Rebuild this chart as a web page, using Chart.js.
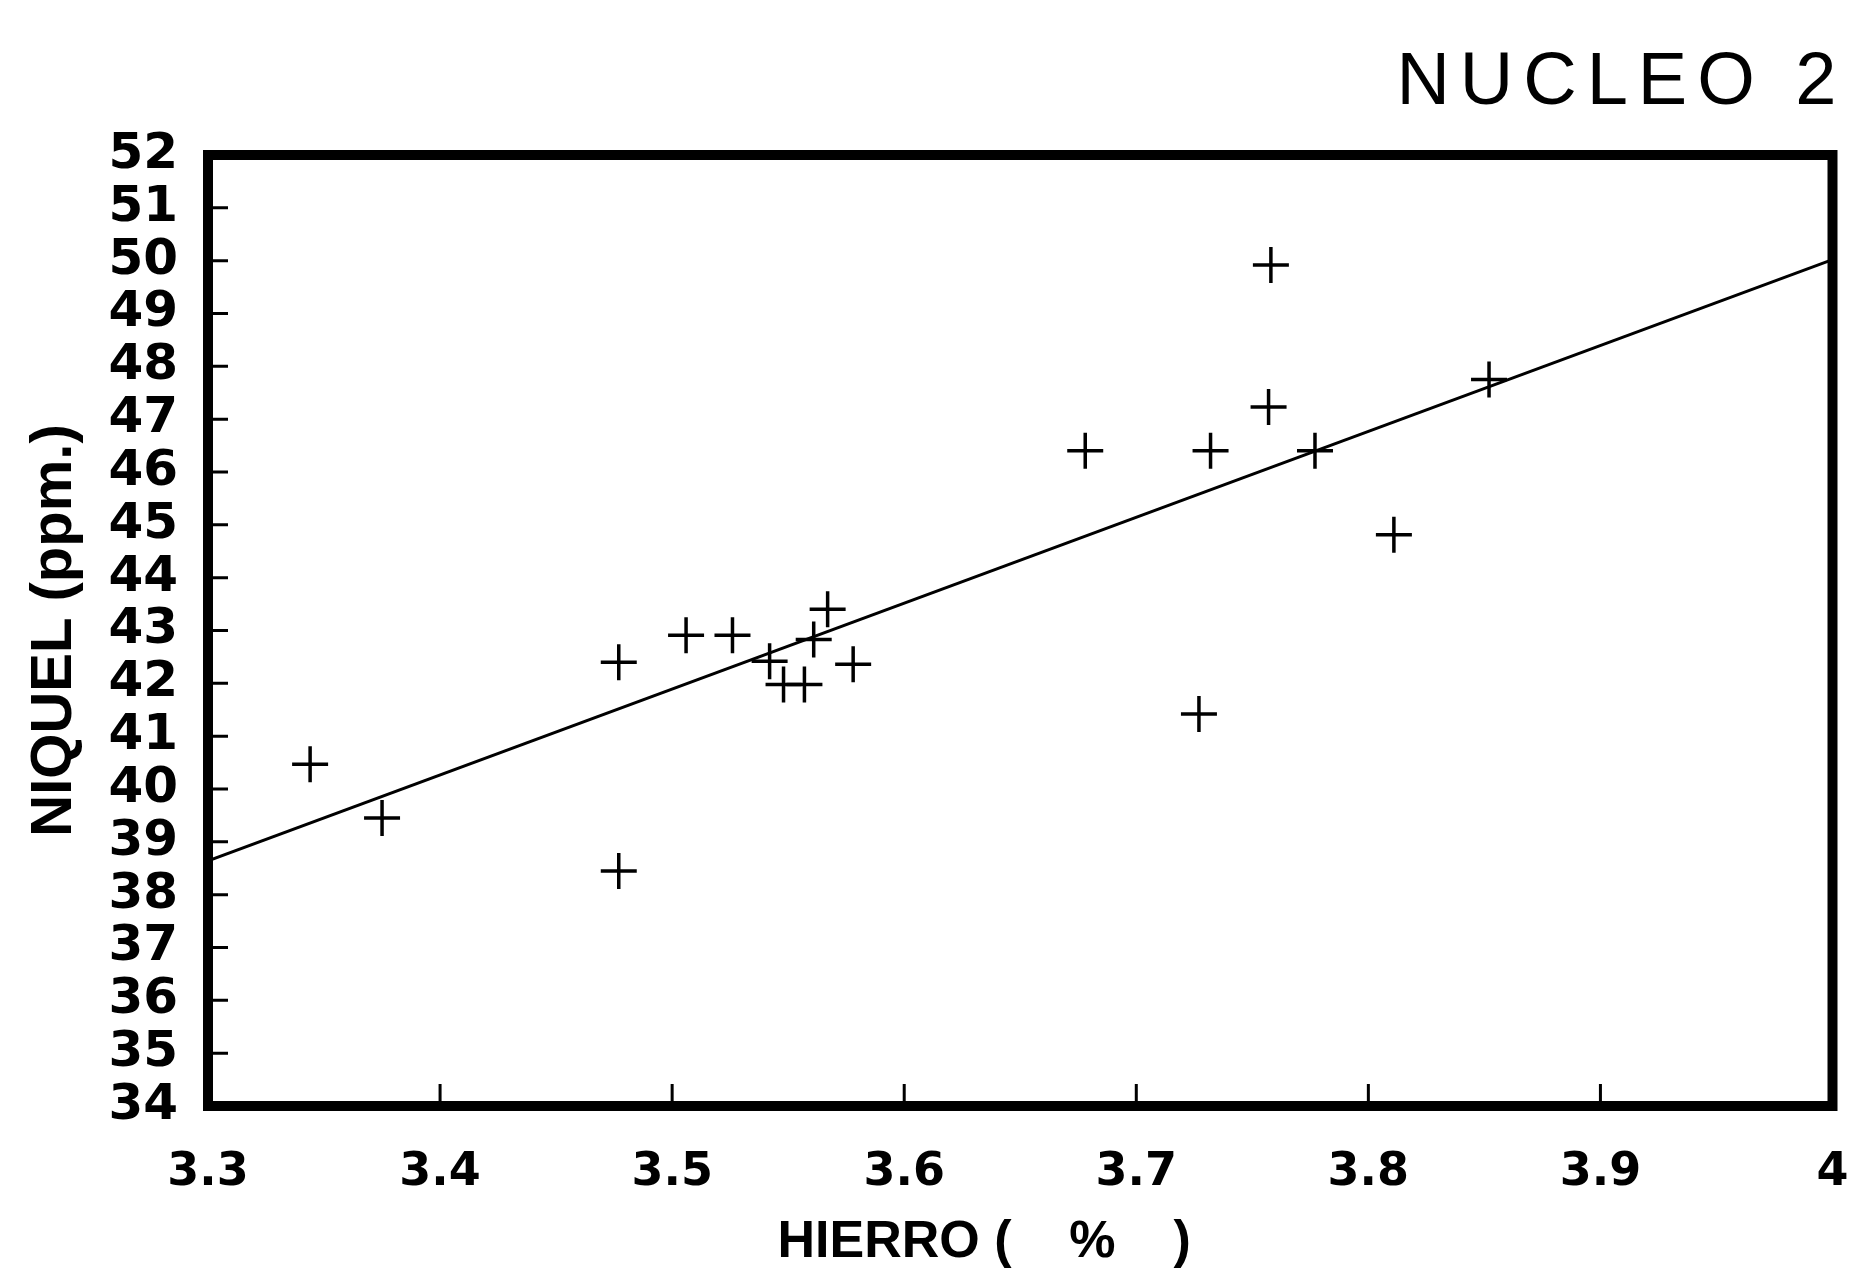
<!DOCTYPE html>
<html>
<head>
<meta charset="utf-8">
<title>NUCLEO 2</title>
<script src="https://cdn.jsdelivr.net/npm/chart.js@4.4.0/dist/chart.umd.min.js"></script>
<style>
  html, body { margin: 0; padding: 0; background: #fff; overflow: hidden; }
  canvas { display: block; }
</style>
</head>
<body>
<canvas id="chart" width="1854" height="1269"></canvas>
<script>
// ---------- Data ----------
const HIERRO = [3.344, 3.375, 3.477, 3.477, 3.506, 3.526, 3.542, 3.548, 3.557, 3.561,
                3.567, 3.578, 3.678, 3.727, 3.732, 3.758, 3.757, 3.777, 3.811, 3.852];
const NIQUEL = [40.47, 39.45, 42.40, 38.45, 42.91, 42.91, 42.42, 41.98, 41.98, 42.83,
                43.40, 42.36, 46.40, 41.42, 46.40, 49.92, 47.23, 46.40, 44.81, 47.75];

// regression line end points
const FIT_X = [3.3, 4.0];
const FIT_Y = [38.64, 50.02];

const X_TICKS = [3.3, 3.4, 3.5, 3.6, 3.7, 3.8, 3.9, 4.0];
const X_TICK_LABELS = ['3.3', '3.4', '3.5', '3.6', '3.7', '3.8', '3.9', '4'];
const Y_TICKS = [34, 35, 36, 37, 38, 39, 40, 41, 42, 43, 44, 45, 46, 47, 48, 49, 50, 51, 52];
const Y_TICK_LABELS = ['34', '35', '36', '37', '38', '39', '40', '41', '42', '43',
                       '44', '45', '46', '47', '48', '49', '50', '51', '52'];

const TITLE = 'NUCLEO 2';
const X_TITLE = 'HIERRO (    %    )     ';
const Y_TITLE = 'NIQUEL (ppm.)';

// ---------- Plugins ----------
// heavy box round the plot + short inward tick marks
const framePlugin = {
  id: 'frame',
  afterDatasetsDraw(chart) {
    const { ctx, chartArea: a, scales } = chart;
    ctx.save();
    ctx.strokeStyle = '#000';
    ctx.lineWidth = 3;
    ctx.beginPath();
    scales.y.ticks.forEach(t => {
      const y = scales.y.getPixelForValue(t.value);
      ctx.moveTo(a.left, y);
      ctx.lineTo(a.left + 20, y);
    });
    scales.x.ticks.forEach(t => {
      const x = scales.x.getPixelForValue(t.value);
      ctx.moveTo(x, a.bottom);
      ctx.lineTo(x, a.bottom - 22);
    });
    ctx.stroke();
    ctx.lineWidth = 10;
    ctx.lineJoin = 'miter';
    ctx.strokeRect(a.left, a.top, a.right - a.left, a.bottom - a.top);
    ctx.restore();
  }
};

// title sits at the top right, above the box
const titlePlugin = {
  id: 'cornerTitle',
  afterDraw(chart) {
    const { ctx, chartArea: a } = chart;
    ctx.save();
    ctx.fillStyle = '#000';
    ctx.font = '400 74px "Liberation Sans", Arial, sans-serif';
    ctx.letterSpacing = '10px';
    ctx.textAlign = 'right';
    ctx.textBaseline = 'alphabetic';
    ctx.fillText(TITLE, a.right + 14, a.top - 51);
    ctx.restore();
  }
};

// ---------- Chart ----------
const tickFont = { family: 'DejaVu Sans', weight: 'bold' };

new Chart(document.getElementById('chart'), {
  type: 'scatter',
  data: {
    datasets: [
      {
        label: 'Muestras',
        data: HIERRO.map((x, i) => ({ x, y: NIQUEL[i] })),
        pointStyle: 'cross',
        pointRadius: 18,
        pointBorderWidth: 3.5,
        borderColor: '#000',
        backgroundColor: '#000',
        showLine: false
      },
      {
        label: 'Ajuste',
        data: FIT_X.map((x, i) => ({ x, y: FIT_Y[i] })),
        showLine: true,
        pointRadius: 0,
        borderColor: '#000',
        borderWidth: 3,
        fill: false
      }
    ]
  },
  options: {
    responsive: false,
    animation: false,
    devicePixelRatio: 1,
    layout: { padding: { top: 155, right: 14, bottom: 0, left: 0 } },
    plugins: { legend: { display: false }, tooltip: { enabled: false } },
    scales: {
      x: {
        type: 'linear',
        min: 3.3,
        max: 4.0,
        afterBuildTicks: s => { s.ticks = X_TICKS.map(v => ({ value: v })); },
        // fixed axis height; the edge labels may hang past the box like in the scan
        afterFit: s => { s.height = 163; s.paddingLeft = 0; s.paddingRight = 0; },
        grid: { display: false, drawTicks: false },
        border: { display: false },
        ticks: {
          autoSkip: false,
          maxRotation: 0,
          padding: 39,
          color: '#000',
          font: { ...tickFont, size: 46, lineHeight: 1.2 },
          callback: (v, i) => X_TICK_LABELS[i]
        },
        title: {
          display: true,
          text: X_TITLE,
          color: '#000',
          font: { family: 'Liberation Sans', weight: 'bold', size: 52, lineHeight: 1 },
          padding: { top: 0, bottom: 0 }
        }
      },
      y: {
        type: 'linear',
        min: 34,
        max: 52,
        afterBuildTicks: s => { s.ticks = Y_TICKS.map(v => ({ value: v })); },
        afterFit: s => { s.width = 208; },
        grid: { display: false, drawTicks: false },
        border: { display: false },
        ticks: {
          autoSkip: false,
          padding: 30,
          color: '#000',
          font: { ...tickFont, size: 50, lineHeight: 1 },
          callback: (v, i) => Y_TICK_LABELS[i]
        },
        title: {
          display: true,
          text: Y_TITLE,
          color: '#000',
          font: { family: 'Liberation Sans', weight: 'bold', size: 58, lineHeight: 1 },
          padding: { top: 26, bottom: 0 }
        }
      }
    }
  },
  plugins: [framePlugin, titlePlugin]
});
</script>
</body>
</html>
